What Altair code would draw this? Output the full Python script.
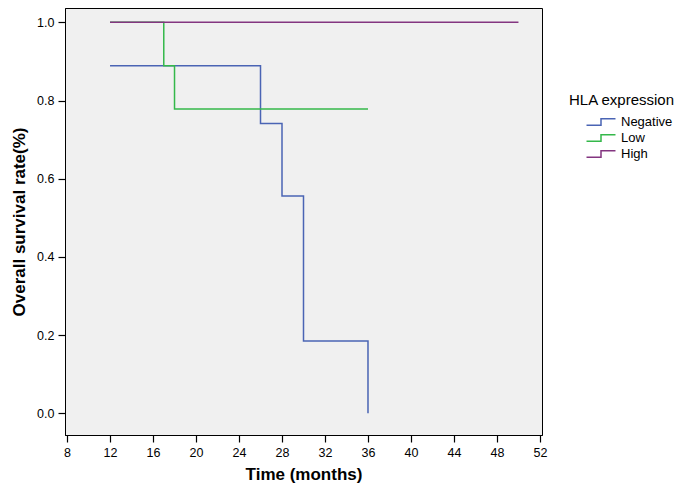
import altair as alt
import pandas as pd

# --- data ---
neg_x = [12, 26, 28, 30, 36]
neg_y = [0.889, 0.741, 0.556, 0.185, 0.0]
low_x = [12, 17, 18, 36]
low_y = [1.0, 0.889, 0.778, 0.778]
high_x = [12, 50]
high_y = [1.0, 1.0]

groups = ["Negative", "Low", "High"]
colors = ["#4a64b4", "#34b84a", "#833580"]
x_ticks = [8, 12, 16, 20, 24, 28, 32, 36, 40, 44, 48, 52]
y_ticks = [0.0, 0.2, 0.4, 0.6, 0.8, 1.0]

def frame(name, xs, ys):
    return pd.DataFrame({"time": xs, "surv": ys, "group": name})

dfs = [frame("Negative", neg_x, neg_y), frame("Low", low_x, low_y), frame("High", high_x, high_y)]

x_enc = alt.X("time:Q", scale=alt.Scale(domain=[7.81, 52.19], nice=False, zero=False),
              axis=alt.Axis(values=x_ticks, title="Time (months)", grid=False,
                            labelFlush=False, format="d"))
y_enc = alt.Y("surv:Q", scale=alt.Scale(domain=[-0.0555, 1.0366], nice=False, zero=False),
              axis=alt.Axis(values=y_ticks, title="Overall survival rate(%)", grid=False,
                            format=".1f", labelFlush=False, titlePadding=8))
color_enc = alt.Color("group:N", scale=alt.Scale(domain=groups, range=colors),
                      legend=alt.Legend(title="HLA expression", orient="none",
                                        legendX=504, legendY=85,
                                        symbolType="M-2,0.45H0V-0.45H2",
                                        symbolSize=210, symbolStrokeWidth=1.5,
                                        symbolFillColor="transparent",
                                        symbolOffset=24, labelOffset=12,
                                        rowPadding=1, padding=0, titlePadding=6,
                                        titleFontSize=15, titleFontWeight="normal",
                                        titleColor="#000", labelColor="#000",
                                        labelFontSize=13, titleFont="Liberation Sans",
                                        labelFont="Liberation Sans", titleLimit=300))

layers = [
    alt.Chart(d).mark_line(interpolate="step-after", strokeWidth=1.5).encode(
        x=x_enc, y=y_enc, color=color_enc)
    for d in dfs
]

chart = alt.layer(*layers).properties(
    width=477, height=427,
    autosize=alt.AutoSizeParams(type="none"),
    padding={"left": 57, "top": 0, "right": 135, "bottom": 49},
    background="white",
).configure_view(
    fill="#f0f0f0", stroke="#000", strokeWidth=1
).configure_axis(
    domainColor="#000", domainWidth=1, tickColor="#000", tickSize=7, tickWidth=1.2,
    labelColor="#000", labelFontSize=12.5, labelFont="Liberation Sans", labelPadding=4,
    titleColor="#000", titleFontSize=17, titleFont="Liberation Sans", titleFontWeight="bold",
    titlePadding=8
)

chart.save("out.html", embed_options={"renderer": "svg", "actions": False})
